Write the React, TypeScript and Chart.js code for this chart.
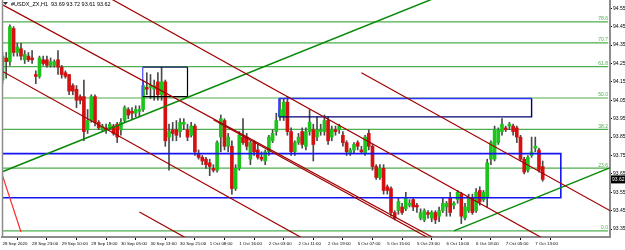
import { useEffect, useRef } from "react";
import { Chart, registerables } from "chart.js";
Chart.register(...registerables);

const symbolName = "#USDX_ZX,H1";

const openP = [94.16,94.28,94.26,94.44,94.31,94.33,94.27,94.29,94.28,94.19,
94.18,94.27,94.27,94.24,94.24,94.27,94.23,94.20,94.19,94.13,
94.11,94.07,94.07,93.89,93.94,94.07,93.93,93.89,93.90,93.90,
93.91,93.92,93.89,93.94,94.00,93.99,93.98,93.99,94.00,94.12,
94.12,94.11,94.15,94.08,94.15,93.85,93.89,93.89,93.88,93.92,
93.89,93.86,93.91,93.76,93.74,93.73,93.71,93.68,93.67,93.85,
93.94,93.80,93.80,93.57,93.68,93.85,93.85,93.73,93.82,93.78,
93.74,93.72,93.77,93.83,93.88,93.96,93.96,94.04,93.88,93.77,
93.82,93.88,93.80,93.88,93.89,93.85,93.88,93.88,93.94,93.85,
93.89,93.89,93.86,93.82,93.76,93.78,93.82,93.78,93.76,93.87,
93.80,93.69,93.63,93.68,93.58,93.57,93.44,93.45,93.47,93.46,
93.48,93.51,93.48,93.41,93.40,93.44,93.41,93.44,93.42,93.45,
93.47,93.52,93.48,93.51,93.54,93.41,93.45,93.52,93.45,93.56,
93.51,93.52,93.73,93.73,93.82,93.88,93.90,93.91,93.91,93.90,
93.85,93.73,93.67,93.75,93.79,93.78,93.69];

const closeP = [94.29,94.26,94.45,94.31,94.34,94.29,94.30,94.27,94.27,94.18,
94.28,94.25,94.24,94.26,94.26,94.23,94.19,94.18,94.10,94.10,
94.05,94.05,93.88,93.94,94.07,93.93,93.90,93.91,93.89,93.92,
93.87,93.85,93.93,94.01,93.97,93.98,94.00,94.00,94.13,94.11,
94.13,94.13,94.08,94.15,93.83,93.88,93.87,93.86,93.93,93.93,
93.85,93.91,93.77,93.74,93.72,93.70,93.69,93.67,93.82,93.95,
93.80,93.85,93.57,93.68,93.86,93.82,93.80,93.82,93.77,93.74,
93.73,93.77,93.85,93.87,93.94,94.00,94.04,93.88,93.77,93.82,
93.85,93.81,93.88,93.93,93.81,93.89,93.89,93.94,93.83,93.89,
93.88,93.91,93.82,93.77,93.78,93.81,93.80,93.77,93.85,93.80,
93.69,93.63,93.68,93.56,93.56,93.44,93.41,93.50,93.44,93.52,
93.49,93.47,93.47,93.44,93.45,93.43,93.44,93.40,93.45,93.49,
93.49,93.44,93.49,93.55,93.42,93.47,93.52,93.44,93.55,93.50,
93.55,93.71,93.82,93.89,93.89,93.92,93.89,93.92,93.88,93.85,
93.73,93.66,93.74,93.77,93.80,93.67,93.62];

const highP = [94.31,94.31,94.46,94.45,94.36,94.36,94.32,94.31,94.32,94.21,
94.29,94.29,94.29,94.28,94.27,94.32,94.24,94.21,94.19,94.14,
94.13,94.08,94.16,94.00,94.08,94.08,93.94,93.92,93.92,93.93,
93.92,93.93,93.95,94.02,94.01,94.01,94.02,94.02,94.16,94.20,
94.19,94.16,94.20,94.23,94.16,93.92,93.93,93.94,93.95,93.95,
93.92,93.93,93.92,93.78,93.75,93.74,93.73,93.70,93.83,93.97,
93.95,93.87,93.83,93.70,93.88,93.95,93.87,93.83,93.83,93.81,
93.77,93.78,93.86,93.89,93.98,94.06,94.06,94.07,93.90,93.83,
93.87,93.90,93.90,94.00,93.92,93.96,93.92,93.97,93.96,93.91,
93.91,93.92,93.88,93.83,93.79,93.82,93.83,93.80,93.86,93.89,
93.81,93.70,93.70,93.70,93.59,93.58,93.45,93.52,93.49,93.55,
93.51,93.52,93.49,93.46,93.46,93.45,93.45,93.45,93.47,93.52,
93.50,93.55,93.50,93.56,93.55,93.49,93.54,93.54,93.57,93.58,
93.56,93.73,93.83,93.91,93.90,93.95,93.91,93.93,93.92,93.91,
93.86,93.74,93.75,93.85,93.85,93.79,93.72];

const lowP = [94.14,94.17,94.24,94.29,94.29,94.27,94.25,94.26,94.25,94.14,
94.17,94.24,94.23,94.23,94.23,94.19,94.17,94.17,94.08,94.08,
94.01,94.03,93.83,93.87,93.93,93.91,93.89,93.88,93.87,93.89,
93.86,93.82,93.86,93.93,93.95,93.95,93.96,93.96,93.99,94.08,
94.06,94.05,94.05,94.05,93.80,93.67,93.83,93.83,93.85,93.89,
93.83,93.85,93.75,93.73,93.70,93.68,93.64,93.66,93.66,93.77,
93.78,93.77,93.54,93.56,93.67,93.81,93.78,93.70,93.75,93.73,
93.72,93.70,93.75,93.82,93.86,93.94,93.94,93.86,93.75,93.75,
93.81,93.79,93.78,93.86,93.72,93.83,93.86,93.86,93.81,93.83,
93.86,93.87,93.80,93.75,93.75,93.76,93.78,93.76,93.75,93.78,
93.67,93.62,93.62,93.54,93.54,93.42,93.40,93.43,93.43,93.45,
93.47,93.45,93.44,93.40,93.39,93.41,93.39,93.38,93.39,93.44,
93.42,93.42,93.46,93.49,93.38,93.40,93.44,93.43,93.44,93.48,
93.50,93.47,93.70,93.72,93.81,93.86,93.88,93.89,93.86,93.82,
93.72,93.65,93.66,93.74,93.77,93.66,93.61];

const xTickBars = [0, 8, 16, 24, 32, 40, 48, 56, 64, 72, 80, 88, 96, 104, 112, 120, 128, 136, 144];
const xTickLabels = [
  "28 Sep 2020", "28 Sep 23:00", "29 Sep 10:00", "29 Sep 18:00", "30 Sep 05:00",
  "30 Sep 13:00", "30 Sep 21:00", "1 Oct 08:00", "1 Oct 16:00", "2 Oct 03:00",
  "2 Oct 11:00", "2 Oct 19:00", "5 Oct 07:00", "5 Oct 15:00", "5 Oct 23:00",
  "6 Oct 10:00", "6 Oct 18:00", "7 Oct 05:00", "7 Oct 13:00",
];
const yTickValues = [93.35, 93.45, 93.55, 93.65, 93.75, 93.85, 93.95, 94.05, 94.15, 94.25, 94.35, 94.45, 94.55];

const fibLow = 93.34;
const fibHigh = 94.785;
const fibLevels = [0, 23.6, 38.2, 50.0, 61.8, 70.7, 78.6];

// trend lines as [bar index, price] end points
const channelUpper = [[-1, 94.58], [118, 93.286]];
const channelUpperTwin = [[57, 93.944], [116, 93.292]];
const channelMid = [[29, 94.605], [148, 93.278]];
const channelLower = [[-1, 94.218], [84, 93.268]];
const channelRight = [[97, 94.2], [166, 93.43]];
const shortRed = [[37, 93.443], [51, 93.286]];
const steepRed = [[-2, 93.763], [5, 93.334]];
const greenTrend = [[-1, 93.654], [120, 94.631]];
const greenTrend2 = [[122, 93.34], [166, 93.698]];

// zones: [left bar, right bar, top price, bottom price]
const zoneWide = [-5, 150.9, 93.76, 93.52];
const zoneUpper = [74.7, 143.0, 94.06, 93.96];
const zoneSmall = [37.9, 50.0, 94.23, 94.07];

const xMin = -0.135;
const xMax = 164.19;
const yMin = 93.307;
const yMax = 94.595;
const fibEnd = 163.7;

const BULL = "#1cc41c";
const BEAR = "#d41010";
const DARKRED = "#a00000";
const FIB = "#4fae4f";

export default function App() {
  const ref = useRef<HTMLCanvasElement>(null);
  useEffect(() => {
    const canvas = ref.current;
    if (!canvas) return;
    const idx = openP.map((_, i) => i);
    const lineDs = (pts: number[][], color: any, width: number, order: number, extra: any = {}) => ({
      type: "line" as const,
      data: pts.map(([x, y]) => ({ x, y })),
      borderColor: color,
      borderWidth: width,
      pointRadius: 0,
      fill: false,
      tension: 0,
      order,
      ...extra,
    });
    const rectPts = (z: number[]) => [
      [z[0], z[2]], [z[1], z[2]], [z[1], z[3]], [z[0], z[3]], [z[0], z[2]],
    ];
    const segColors = (cols: string[]) => ({
      segment: { borderColor: (c: any) => cols[c.p0DataIndex] },
    });

    const datasets: any[] = [];
    fibLevels.forEach((lv) => {
      const p = fibLow + ((fibHigh - fibLow) * lv) / 100;
      datasets.push(lineDs([[xMin - 2, p], [fibEnd, p]], FIB, 1.2, 20));
    });
    datasets.push({
      type: "bar",
      data: idx.map((i) => ({ x: i, y: [lowP[i], highP[i]] })),
      backgroundColor: "#4a4a4a",
      barThickness: 1,
      grouped: false,
      order: 12,
    });
    datasets.push({
      type: "bar",
      data: idx.map((i) => ({ x: i, y: [openP[i], closeP[i]] })),
      backgroundColor: idx.map((i) => (closeP[i] >= openP[i] ? BULL : BEAR)),
      barThickness: 3,
      minBarLength: 1,
      grouped: false,
      order: 11,
    });
    datasets.push(lineDs(rectPts(zoneWide), "#1414f0", 1.6, 5));
    datasets.push(lineDs(rectPts(zoneUpper), "#1a1ad0", 1.4, 5, segColors(["#3030ff", "#00007a", "#00007a", "#3030ff"])));
    datasets.push(lineDs(rectPts(zoneSmall), "#111", 1.2, 5, segColors(["#1a1a60", "#000", "#000", "#4848ff"])));
    datasets.push(lineDs(channelUpper, DARKRED, 1.2, 4));
    datasets.push(lineDs(channelUpperTwin, DARKRED, 1.2, 4));
    datasets.push(lineDs(channelMid, DARKRED, 1.2, 4));
    datasets.push(lineDs(channelLower, DARKRED, 1.2, 4));
    datasets.push(lineDs(channelRight, DARKRED, 1.2, 4));
    datasets.push(lineDs(shortRed, DARKRED, 1.2, 4));
    datasets.push(lineDs(steepRed, "#ff2a2a", 1.2, 4));
    datasets.push(lineDs(greenTrend, "#0a8a0a", 1.5, 4));
    datasets.push(lineDs(greenTrend2, "#0a8a0a", 1.5, 4));

    const overlay = {
      id: "overlay",
      afterDraw(chart: any) {
        const { ctx, chartArea, scales } = chart;
        const ys = scales.y;
        ctx.save();
        // left frame
        ctx.strokeStyle = "#8c8c8c";
        ctx.lineWidth = 1.5;
        ctx.beginPath();
        ctx.moveTo(chartArea.left + 0.5, 0);
        ctx.lineTo(chartArea.left + 0.5, chartArea.bottom);
        ctx.stroke();
        // fib labels
        ctx.font = '5px "Liberation Sans"';
        ctx.fillStyle = FIB;
        ctx.textAlign = "right";
        ctx.textBaseline = "bottom";
        fibLevels.forEach((lv) => {
          const p = fibLow + ((fibHigh - fibLow) * lv) / 100;
          ctx.fillText(lv.toFixed(1), chartArea.right - 2, ys.getPixelForValue(p) - 0.5);
        });
        // title
        const n = closeP.length - 1;
        ctx.fillStyle = "#333";
        ctx.beginPath();
        ctx.moveTo(3, 2);
        ctx.lineTo(8, 2);
        ctx.lineTo(5.5, 5);
        ctx.closePath();
        ctx.fill();
        ctx.fillStyle = "#000";
        ctx.textAlign = "left";
        ctx.textBaseline = "middle";
        ctx.font = '5.5px "Liberation Sans"';
        ctx.fillText(
          `${symbolName}  ${openP[n].toFixed(2)} ${highP[n].toFixed(2)} ${lowP[n].toFixed(2)} ${closeP[n].toFixed(2)}`,
          11, 4
        );
        // price badge
        const by = ys.getPixelForValue(closeP[n]);
        ctx.fillStyle = "#000";
        ctx.fillRect(chartArea.right + 1, by - 4, 15, 8);
        ctx.fillStyle = "#fff";
        ctx.font = '5px "Liberation Sans"';
        ctx.fillText(closeP[n].toFixed(2), chartArea.right + 2, by + 0.5);
        ctx.restore();
      },
    };

    const chart = new Chart(canvas, {
      type: "bar",
      data: { datasets },
      options: {
        responsive: false,
        animation: false,
        events: [],
        layout: { padding: { left: 2, right: 0, top: 0, bottom: 0 } },
        plugins: { legend: { display: false }, tooltip: { enabled: false }, title: { display: false } },
        scales: {
          x: {
            type: "linear",
            position: "bottom",
            min: xMin,
            max: xMax,
            offset: false,
            bounds: "data",
            afterBuildTicks: (s: any) => {
              s.ticks = xTickBars.map((v) => ({ value: v }));
            },
            afterFit: (s: any) => {
              s.height = 13;
              s.paddingLeft = 0;
              s.paddingRight = 0;
            },
            ticks: {
              autoSkip: false,
              maxRotation: 0,
              minRotation: 0,
              align: "start",
              padding: 1,
              color: "#000",
              font: { size: 4.4, family: "Liberation Sans" },
              callback: (v: any) => {
                const k = xTickBars.indexOf(Number(v));
                return k >= 0 ? xTickLabels[k] : "";
              },
            },
            grid: { drawOnChartArea: false, drawTicks: true, tickLength: 3, color: "#000", lineWidth: 1 },
            border: { display: true, color: "#8c8c8c", width: 2 },
          },
          y: {
            type: "linear",
            position: "right",
            min: yMin,
            max: yMax,
            bounds: "data",
            afterBuildTicks: (s: any) => {
              s.ticks = yTickValues.map((v) => ({ value: v }));
            },
            afterFit: (s: any) => {
              s.width = 15;
              s.paddingTop = 0;
              s.paddingBottom = 0;
            },
            ticks: {
              padding: 1,
              color: "#000",
              font: { size: 5, family: "Liberation Sans" },
              callback: (v: any) => Number(v).toFixed(2),
            },
            grid: { drawOnChartArea: false, drawTicks: true, tickLength: 2, color: "#000", lineWidth: 1 },
            border: { display: true, color: "#8c8c8c", width: 2 },
          },
        },
      } as any,
      plugins: [overlay],
    });
    return () => chart.destroy();
  }, []);
  return (
    <div style={{ position: "fixed", left: 0, top: 0, width: 625, height: 250, background: "#fff" }}>
      <canvas ref={ref} width={625} height={250} style={{ display: "block" }} />
    </div>
  );
}
